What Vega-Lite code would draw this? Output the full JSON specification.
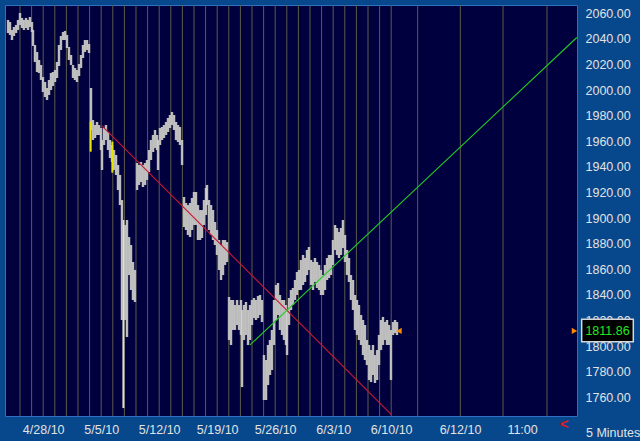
{
  "$schema": "https://vega.github.io/schema/vega-lite/v6.json",
  "autosize": {"type": "none"},
  "width": 572,
  "height": 411,
  "padding": {"left": 5, "top": 5, "right": 63, "bottom": 25},
  "background": "#07478c",
  "config": {
    "view": {"fill": "#00003e", "stroke": "#2f6fc4", "strokeWidth": 1},
    "font": "Liberation Sans",
    "axis": {"labelOverlap": false, "labelFlush": false},
    "axisY": {"labelOverlap": false}
  },
  "datasets": {
    "bars": [
      {"t": -1.03, "lo": 2044.6, "hi": 2054.8}, {"t": -0.86, "lo": 2043.1, "hi": 2053.2},
      {"t": -0.69, "lo": 2039.1, "hi": 2047.0}, {"t": -0.52, "lo": 2042.3, "hi": 2049.3},
      {"t": -0.34, "lo": 2044.6, "hi": 2050.9}, {"t": -0.17, "lo": 2047.0, "hi": 2054.8},
      {"t": 0.0, "lo": 2050.9, "hi": 2060.2}, {"t": 0.17, "lo": 2048.5, "hi": 2056.3},
      {"t": 0.34, "lo": 2047.0, "hi": 2054.8}, {"t": 0.52, "lo": 2048.5, "hi": 2056.3},
      {"t": 0.69, "lo": 2047.0, "hi": 2054.8}, {"t": 0.86, "lo": 2049.3, "hi": 2057.1},
      {"t": 1.03, "lo": 2045.4, "hi": 2053.2}, {"t": 1.12, "lo": 2034.5, "hi": 2047.0},
      {"t": 1.29, "lo": 2022.0, "hi": 2035.2}, {"t": 1.47, "lo": 2014.1, "hi": 2029.8},
      {"t": 1.64, "lo": 2013.4, "hi": 2023.5}, {"t": 1.81, "lo": 2007.9, "hi": 2019.6},
      {"t": 1.98, "lo": 1998.5, "hi": 2010.2}, {"t": 2.16, "lo": 1994.6, "hi": 2006.3},
      {"t": 2.33, "lo": 1992.3, "hi": 2001.6}, {"t": 2.5, "lo": 1996.2, "hi": 2007.9},
      {"t": 2.67, "lo": 2000.1, "hi": 2013.4}, {"t": 2.84, "lo": 2003.2, "hi": 2014.1},
      {"t": 3.02, "lo": 2006.3, "hi": 2015.7}, {"t": 3.19, "lo": 2009.5, "hi": 2022.0},
      {"t": 3.36, "lo": 2018.8, "hi": 2035.2}, {"t": 3.53, "lo": 2031.3, "hi": 2042.3},
      {"t": 3.71, "lo": 2039.1, "hi": 2045.4}, {"t": 3.88, "lo": 2039.1, "hi": 2046.2},
      {"t": 4.05, "lo": 2032.9, "hi": 2043.1}, {"t": 4.22, "lo": 2023.5, "hi": 2033.7},
      {"t": 4.4, "lo": 2019.6, "hi": 2027.4}, {"t": 4.57, "lo": 2009.5, "hi": 2019.6},
      {"t": 4.74, "lo": 2007.9, "hi": 2017.3}, {"t": 4.91, "lo": 2006.3, "hi": 2015.7},
      {"t": 5.09, "lo": 2011.0, "hi": 2020.4}, {"t": 5.26, "lo": 2017.3, "hi": 2027.4},
      {"t": 5.43, "lo": 2025.1, "hi": 2035.2}, {"t": 5.6, "lo": 2029.8, "hi": 2039.1},
      {"t": 5.78, "lo": 2031.3, "hi": 2039.1}, {"t": 5.95, "lo": 2029.0, "hi": 2036.0},
      {"t": 6.12, "lo": 1968.8, "hi": 2001.6}, {"t": 6.29, "lo": 1961.0, "hi": 1976.6},
      {"t": 6.47, "lo": 1962.6, "hi": 1972.7}, {"t": 6.64, "lo": 1964.9, "hi": 1975.1},
      {"t": 6.81, "lo": 1964.9, "hi": 1972.7}, {"t": 6.98, "lo": 1953.2, "hi": 1970.4},
      {"t": 7.07, "lo": 1937.6, "hi": 1961.0}, {"t": 7.24, "lo": 1957.1, "hi": 1970.4},
      {"t": 7.41, "lo": 1961.0, "hi": 1972.7}, {"t": 7.59, "lo": 1953.2, "hi": 1967.3},
      {"t": 7.76, "lo": 1946.9, "hi": 1961.0}, {"t": 7.93, "lo": 1943.8, "hi": 1957.1},
      {"t": 8.1, "lo": 1937.6, "hi": 1953.2}, {"t": 8.28, "lo": 1933.7, "hi": 1949.3},
      {"t": 8.45, "lo": 1921.9, "hi": 1941.5}, {"t": 8.62, "lo": 1910.2, "hi": 1933.7},
      {"t": 8.79, "lo": 1820.4, "hi": 1914.1}, {"t": 8.92, "lo": 1751.6, "hi": 1898.5},
      {"t": 9.05, "lo": 1820.4, "hi": 1894.6}, {"t": 9.22, "lo": 1807.1, "hi": 1898.5},
      {"t": 9.4, "lo": 1855.5, "hi": 1885.2}, {"t": 9.57, "lo": 1843.8, "hi": 1879.0},
      {"t": 9.74, "lo": 1836.0, "hi": 1865.7}, {"t": 9.91, "lo": 1834.5, "hi": 1859.5},
      {"t": 10.09, "lo": 1921.9, "hi": 1943.0}, {"t": 10.26, "lo": 1925.9, "hi": 1941.5},
      {"t": 10.43, "lo": 1928.2, "hi": 1943.8}, {"t": 10.6, "lo": 1924.3, "hi": 1941.5},
      {"t": 10.78, "lo": 1925.9, "hi": 1943.0}, {"t": 10.95, "lo": 1929.8, "hi": 1945.4},
      {"t": 11.12, "lo": 1936.0, "hi": 1953.2}, {"t": 11.29, "lo": 1945.4, "hi": 1961.0},
      {"t": 11.47, "lo": 1951.6, "hi": 1964.9}, {"t": 11.64, "lo": 1954.8, "hi": 1968.8},
      {"t": 11.81, "lo": 1953.2, "hi": 1964.9}, {"t": 11.9, "lo": 1937.6, "hi": 1961.0},
      {"t": 12.07, "lo": 1957.1, "hi": 1970.4}, {"t": 12.24, "lo": 1961.0, "hi": 1971.2},
      {"t": 12.41, "lo": 1962.6, "hi": 1972.7}, {"t": 12.59, "lo": 1964.9, "hi": 1975.1},
      {"t": 12.76, "lo": 1967.3, "hi": 1978.2}, {"t": 12.93, "lo": 1970.4, "hi": 1980.5},
      {"t": 13.1, "lo": 1972.7, "hi": 1982.9}, {"t": 13.28, "lo": 1968.8, "hi": 1980.5},
      {"t": 13.45, "lo": 1961.0, "hi": 1975.1}, {"t": 13.62, "lo": 1959.5, "hi": 1972.7},
      {"t": 13.79, "lo": 1957.1, "hi": 1971.2}, {"t": 13.97, "lo": 1941.5, "hi": 1961.0},
      {"t": 14.14, "lo": 1893.0, "hi": 1916.5}, {"t": 14.31, "lo": 1890.7, "hi": 1911.8},
      {"t": 14.48, "lo": 1886.8, "hi": 1910.2}, {"t": 14.66, "lo": 1885.2, "hi": 1911.8},
      {"t": 14.83, "lo": 1890.7, "hi": 1915.7}, {"t": 15.0, "lo": 1894.6, "hi": 1920.4},
      {"t": 15.17, "lo": 1894.6, "hi": 1920.4}, {"t": 15.34, "lo": 1882.9, "hi": 1910.2},
      {"t": 15.52, "lo": 1882.9, "hi": 1906.3}, {"t": 15.69, "lo": 1884.5, "hi": 1906.3},
      {"t": 15.86, "lo": 1894.6, "hi": 1914.1}, {"t": 16.03, "lo": 1902.4, "hi": 1923.5},
      {"t": 16.12, "lo": 1910.2, "hi": 1925.9}, {"t": 16.29, "lo": 1890.7, "hi": 1914.1},
      {"t": 16.47, "lo": 1886.8, "hi": 1910.2}, {"t": 16.64, "lo": 1882.9, "hi": 1906.3},
      {"t": 16.81, "lo": 1879.0, "hi": 1896.9}, {"t": 16.98, "lo": 1871.2, "hi": 1890.7},
      {"t": 17.16, "lo": 1859.5, "hi": 1882.9}, {"t": 17.33, "lo": 1851.6, "hi": 1879.0},
      {"t": 17.5, "lo": 1855.5, "hi": 1882.9}, {"t": 17.67, "lo": 1863.4, "hi": 1882.9},
      {"t": 17.84, "lo": 1865.7, "hi": 1881.3}, {"t": 18.02, "lo": 1804.8, "hi": 1838.4},
      {"t": 18.19, "lo": 1800.9, "hi": 1836.0}, {"t": 18.36, "lo": 1812.6, "hi": 1836.0},
      {"t": 18.53, "lo": 1812.6, "hi": 1832.1}, {"t": 18.71, "lo": 1816.5, "hi": 1836.0},
      {"t": 18.88, "lo": 1812.6, "hi": 1832.1}, {"t": 19.05, "lo": 1808.7, "hi": 1836.0},
      {"t": 19.14, "lo": 1768.0, "hi": 1828.2}, {"t": 19.31, "lo": 1804.8, "hi": 1832.1},
      {"t": 19.48, "lo": 1808.7, "hi": 1834.5}, {"t": 19.66, "lo": 1800.9, "hi": 1828.2},
      {"t": 19.83, "lo": 1804.8, "hi": 1832.1}, {"t": 20.0, "lo": 1816.5, "hi": 1836.0},
      {"t": 20.17, "lo": 1821.9, "hi": 1837.6}, {"t": 20.34, "lo": 1820.4, "hi": 1836.0},
      {"t": 20.52, "lo": 1821.9, "hi": 1839.1}, {"t": 20.69, "lo": 1824.3, "hi": 1839.9},
      {"t": 20.86, "lo": 1818.8, "hi": 1836.0}, {"t": 21.03, "lo": 1757.9, "hi": 1793.0},
      {"t": 21.21, "lo": 1757.9, "hi": 1789.1}, {"t": 21.38, "lo": 1769.6, "hi": 1800.9},
      {"t": 21.55, "lo": 1777.4, "hi": 1804.8}, {"t": 21.72, "lo": 1781.3, "hi": 1812.6},
      {"t": 21.9, "lo": 1800.9, "hi": 1836.0}, {"t": 22.07, "lo": 1820.4, "hi": 1847.7},
      {"t": 22.24, "lo": 1824.3, "hi": 1849.3}, {"t": 22.41, "lo": 1812.6, "hi": 1839.9},
      {"t": 22.59, "lo": 1808.7, "hi": 1836.0}, {"t": 22.76, "lo": 1804.8, "hi": 1836.0},
      {"t": 22.93, "lo": 1800.9, "hi": 1832.1}, {"t": 23.02, "lo": 1793.0, "hi": 1828.2},
      {"t": 23.19, "lo": 1816.5, "hi": 1837.6}, {"t": 23.36, "lo": 1828.2, "hi": 1843.8},
      {"t": 23.53, "lo": 1832.1, "hi": 1845.4}, {"t": 23.71, "lo": 1836.0, "hi": 1851.6},
      {"t": 23.88, "lo": 1839.9, "hi": 1857.9}, {"t": 24.05, "lo": 1843.8, "hi": 1859.5},
      {"t": 24.22, "lo": 1843.8, "hi": 1867.3}, {"t": 24.4, "lo": 1847.7, "hi": 1871.2},
      {"t": 24.57, "lo": 1850.1, "hi": 1868.8}, {"t": 24.74, "lo": 1855.5, "hi": 1875.1},
      {"t": 24.91, "lo": 1859.5, "hi": 1877.4}, {"t": 25.09, "lo": 1847.7, "hi": 1867.3},
      {"t": 25.26, "lo": 1843.8, "hi": 1865.7}, {"t": 25.43, "lo": 1850.1, "hi": 1868.8},
      {"t": 25.6, "lo": 1845.4, "hi": 1865.7}, {"t": 25.78, "lo": 1843.8, "hi": 1863.4},
      {"t": 25.95, "lo": 1839.9, "hi": 1859.5}, {"t": 26.12, "lo": 1839.9, "hi": 1855.5},
      {"t": 26.29, "lo": 1843.8, "hi": 1863.4}, {"t": 26.47, "lo": 1851.6, "hi": 1868.8},
      {"t": 26.64, "lo": 1853.2, "hi": 1871.2}, {"t": 26.81, "lo": 1855.5, "hi": 1871.2},
      {"t": 26.98, "lo": 1863.4, "hi": 1882.9}, {"t": 27.16, "lo": 1875.1, "hi": 1894.6},
      {"t": 27.33, "lo": 1871.2, "hi": 1892.3}, {"t": 27.5, "lo": 1868.8, "hi": 1889.1},
      {"t": 27.67, "lo": 1871.2, "hi": 1892.3}, {"t": 27.84, "lo": 1876.6, "hi": 1898.5},
      {"t": 28.02, "lo": 1865.7, "hi": 1886.8}, {"t": 28.19, "lo": 1855.5, "hi": 1875.1},
      {"t": 28.36, "lo": 1850.1, "hi": 1868.8}, {"t": 28.53, "lo": 1836.0, "hi": 1855.5},
      {"t": 28.71, "lo": 1828.2, "hi": 1851.6}, {"t": 28.88, "lo": 1812.6, "hi": 1839.9},
      {"t": 29.05, "lo": 1808.7, "hi": 1836.0}, {"t": 29.22, "lo": 1804.8, "hi": 1832.1},
      {"t": 29.4, "lo": 1800.9, "hi": 1824.3}, {"t": 29.57, "lo": 1793.0, "hi": 1820.4},
      {"t": 29.74, "lo": 1789.1, "hi": 1816.5}, {"t": 29.91, "lo": 1785.2, "hi": 1804.8},
      {"t": 30.09, "lo": 1773.5, "hi": 1800.9}, {"t": 30.26, "lo": 1771.9, "hi": 1796.9},
      {"t": 30.43, "lo": 1777.4, "hi": 1800.9}, {"t": 30.6, "lo": 1771.2, "hi": 1793.0},
      {"t": 30.78, "lo": 1773.5, "hi": 1796.9}, {"t": 30.95, "lo": 1785.2, "hi": 1808.7},
      {"t": 31.12, "lo": 1796.9, "hi": 1820.4}, {"t": 31.29, "lo": 1800.9, "hi": 1822.8},
      {"t": 31.47, "lo": 1804.8, "hi": 1818.8}, {"t": 31.64, "lo": 1800.9, "hi": 1820.4},
      {"t": 31.81, "lo": 1800.9, "hi": 1816.5}, {"t": 31.98, "lo": 1773.5, "hi": 1812.6},
      {"t": 32.16, "lo": 1808.7, "hi": 1818.8}, {"t": 32.33, "lo": 1810.2, "hi": 1820.4},
      {"t": 32.5, "lo": 1808.7, "hi": 1818.8}
    ],
    "days": [
      {"t": 0}, {"t": 1}, {"t": 2}, {"t": 3}, {"t": 4}, {"t": 5}, {"t": 6}, {"t": 7},
      {"t": 8}, {"t": 9}, {"t": 10}, {"t": 11}, {"t": 12}, {"t": 13}, {"t": 14}, {"t": 15},
      {"t": 16}, {"t": 17}, {"t": 18}, {"t": 19}, {"t": 20}, {"t": 21}, {"t": 22}, {"t": 23},
      {"t": 24}, {"t": 25}, {"t": 26}, {"t": 27}, {"t": 28}, {"t": 29}, {"t": 30}, {"t": 31},
      {"t": 32}, {"t": 34.28}, {"t": 37.96}, {"t": 41.64}, {"t": 45.43}
    ],
    "gaps": [
      {"t": 6.09, "lo": 1951.9, "hi": 1975.3},
      {"t": 7.96, "lo": 1935.5, "hi": 1959.7}
    ],
    "trend": [
      {"line": "down", "t": 7.07, "lo": 1972.0},
      {"line": "down", "t": 32.04, "lo": 1746.2},
      {"line": "up", "t": 19.83, "lo": 1800.9},
      {"line": "up", "t": 48.0, "lo": 2041.1}
    ],
    "last": [{"t": 32.67, "t2": 47.8, "lo": 1811.86, "lbl": "1811.86", "bx": 48.42, "bx2": 52.87, "by": 1803.44, "by2": 1820.94, "tx": 50.65}],
    "notes": [
      {"t": 48.79, "lo": 1732.4, "txt": "5 Minutes"}
    ]
  },
  "encoding": {
    "x": {
      "field": "t", "type": "quantitative",
      "scale": {"domain": [-1.293, 48.017], "nice": false, "zero": false},
      "axis": {
        "orient": "bottom", "title": null, "grid": false, "domain": false, "ticks": false,
        "values": [2, 7, 12, 17, 22, 27, 32, 37.93, 43.28],
        "labelExpr": "datum.value < 3 ? '4/28/10' : datum.value < 8 ? '5/5/10' : datum.value < 13 ? '5/12/10' : datum.value < 18 ? '5/19/10' : datum.value < 23 ? '5/26/10' : datum.value < 28 ? '6/3/10' : datum.value < 33 ? '6/10/10' : datum.value < 40 ? '6/12/10' : '11:00'",
        "labelColor": "#e2e2e2", "labelFontSize": 12.5, "labelPadding": 7,
        "labelFlush": false, "labelOverlap": false
      }
    },
    "y": {
      "field": "lo", "type": "quantitative",
      "scale": {"domain": [1745.39, 2066.48], "nice": false, "zero": false},
      "axis": {
        "orient": "right", "title": null, "grid": false, "domain": false, "ticks": false,
        "values": [1760, 1780, 1800, 1820, 1840, 1860, 1880, 1900, 1920, 1940, 1960, 1980, 2000, 2020, 2040, 2060],
        "format": ".2f", "labelColor": "#e2e2e2", "labelFontSize": 12.5, "labelPadding": 8,
        "labelOverlap": false, "labelBound": false
      }
    }
  },
  "layer": [
    {
      "data": {"name": "days"},
      "mark": {"type": "rule", "color": "#5d5c4c", "strokeWidth": 1},
      "encoding": {"y": {"value": 0}, "y2": {"value": 411}}
    },
    {
      "data": {"name": "bars"},
      "mark": {"type": "rule", "color": "#8f8f8f", "strokeWidth": 2.6},
      "encoding": {"y2": {"field": "hi"}}
    },
    {
      "data": {"name": "bars"},
      "mark": {"type": "rule", "color": "#dedede", "strokeWidth": 1.2},
      "encoding": {"y2": {"field": "hi"}}
    },
    {
      "data": {"name": "gaps"},
      "mark": {"type": "rule", "color": "#e6e600", "strokeWidth": 2},
      "encoding": {"y2": {"field": "hi"}}
    },
    {
      "data": {"name": "trend"},
      "mark": {"type": "line", "strokeWidth": 1.1},
      "encoding": {
        "color": {"field": "line", "type": "nominal", "scale": {"domain": ["down", "up"], "range": ["#d01530", "#22cc22"]}, "legend": null}
      }
    },
    {
      "data": {"name": "last"},
      "mark": {"type": "point", "shape": "triangle-left", "filled": true, "size": 40, "color": "#ff8a00", "opacity": 1}
    },
    {
      "data": {"name": "last"},
      "mark": {"type": "point", "shape": "triangle-right", "filled": true, "size": 40, "color": "#ff8a00", "opacity": 1, "clip": false},
      "encoding": {"x": {"field": "t2", "type": "quantitative"}}
    },
    {
      "data": {"name": "last"},
      "mark": {"type": "rect", "fill": "#000000", "stroke": "#d8d8d8", "strokeWidth": 1.5, "clip": false},
      "encoding": {
        "x": {"field": "bx", "type": "quantitative"}, "x2": {"field": "bx2"},
        "y": {"field": "by", "type": "quantitative"}, "y2": {"field": "by2"}
      }
    },
    {
      "data": {"name": "last"},
      "mark": {"type": "text", "color": "#22e822", "fontSize": 12.5, "align": "center", "baseline": "middle", "clip": false},
      "encoding": {
        "x": {"field": "tx", "type": "quantitative"},
        "text": {"field": "lbl"}
      }
    },
    {
      "data": {"name": "notes"},
      "mark": {"type": "text", "color": "#e2e2e2", "fontSize": 12.5, "align": "left", "baseline": "middle", "clip": false},
      "encoding": {"text": {"field": "txt"}}
    },
    {
      "data": {"values": [{"t": 46.9, "lo": 1738.9, "txt": "<"}]},
      "mark": {"type": "text", "color": "#e8141e", "fontSize": 15, "fontWeight": "bold", "align": "center", "baseline": "middle", "clip": false},
      "encoding": {"text": {"field": "txt"}}
    }
  ]
}
